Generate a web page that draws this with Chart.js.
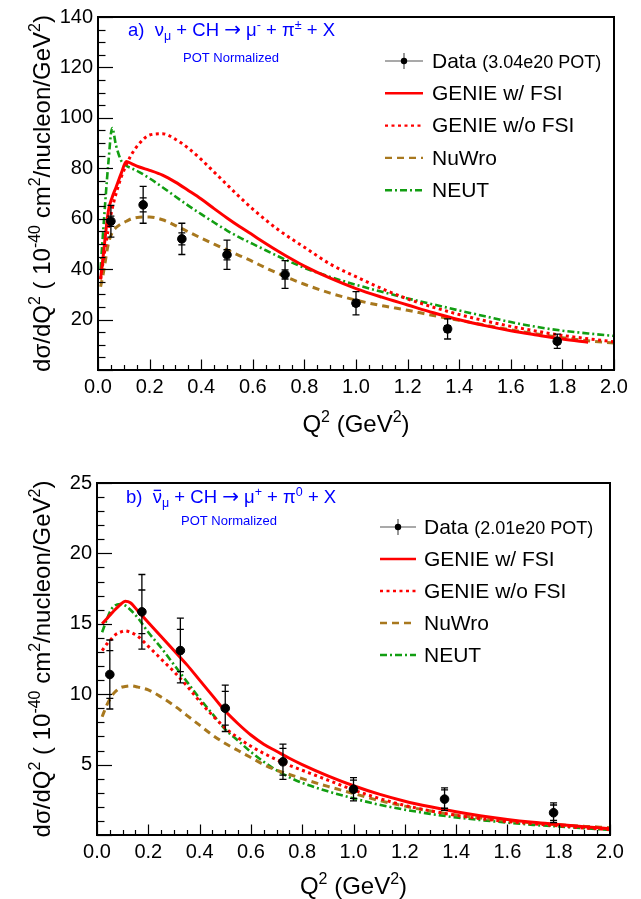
<!DOCTYPE html>
<html lang="en">
<head>
  <meta charset="UTF-8" />
  <title>dsigma/dQ2 - pion production</title>
  <script src="https://cdn.jsdelivr.net/npm/chart.js"></script>
  <style>
    * {
      margin: 0;
      padding: 0;
      box-sizing: border-box;
    }

    body {
      width: 641px;
      height: 899px;
      background: #fff;
      overflow: hidden;
    }

    canvas {
      display: block;
    }
  </style>
</head>
<body>

  <canvas id="topChart" width="641" height="440"></canvas>
  <canvas id="bottomChart" width="641" height="459"></canvas>

  <script>
    // Q2 grid the model curves are read on (GeV^2)
    const curveQ2 = [0.01, 0.02, 0.04, 0.055, 0.07, 0.09, 0.11, 0.13, 0.16, 0.2,
      0.25, 0.3, 0.35, 0.4, 0.45, 0.5, 0.55, 0.6, 0.65, 0.7,
      0.75, 0.8, 0.9, 1.0, 1.1, 1.2, 1.3, 1.4, 1.5, 1.6,
      1.7, 1.8, 1.9, 2.0];

    // a) nu_mu + CH -> mu- + pi+- + X
    const topGenieFsi = [36, 45, 63, 68.5, 72.5, 78, 82.7, 81.8, 80.5, 79.2,
      77.3, 74.5, 71.2, 67.8, 64, 60.3, 56.8, 53.5, 50.2, 47,
      44, 41.2, 36.4, 32.3, 28.9, 25.8, 22.7, 19.9, 17.6, 15.6,
      13.9, 12.3, 11.0, null];
    const topGenieNoFsi = [36, 43, 56, 64, 70, 76.5, 81.5, 85.5, 89.8, 93.2,
      93.7, 91.5, 88, 83.5, 78.5, 73.5, 68.5, 63.8, 59.5, 55.5,
      52, 48.7, 42, 37, 32.3, 28.2, 24.9, 22.0, 19.5, 17.3,
      15.4, 13.7, 12.4, 11.2];
    const topNuwro = [33, 38, 50, 54.5, 56.5, 58, 59, 60, 60.6, 60.7,
      59.6, 57.3, 54.8, 52.3, 49.9, 47.6, 45.3, 43, 40.5, 38.2,
      36, 34, 30.5, 27.7, 25.5, 23.7, 21.6, 19.7, 17.8, 15.9,
      14.3, 12.8, 11.6, 10.7];
    const topNeut = [40, 55, 82, 96, 89, 83, 81, 80, 78.5, 76,
      72.5, 68.8, 65.2, 61.8, 58.5, 55.3, 52.5, 50, 47.5, 45,
      42.7, 40.5, 36.9, 33.8, 31, 28.4, 26, 23.6, 21.3, 19.0,
      17.1, 15.6, 14.5, 13.5];

    // b) anti-nu_mu + CH -> mu+ + pi0 + X
    const botGenieFsi = [null, 15.0, 15.4, 15.7, 16.0, 16.35, 16.6, 16.5, 15.9, 15.1,
      14.1, 13.1, 12.1, 11.0, 9.9, 8.8, 7.9, 7.1, 6.45, 5.95,
      5.45, 5.0, 4.2, 3.5, 2.9, 2.4, 2.0, 1.65, 1.35, 1.1,
      0.9, 0.74, 0.58, 0.45];
    const botGenieNoFsi = [null, 13.1, 13.6, 13.9, 14.2, 14.4, 14.5, 14.4, 14.1, 13.4,
      12.5, 11.6, 10.6, 9.5, 8.5, 7.6, 6.9, 6.3, 5.8, 5.35,
      4.95, 4.6, 3.9, 3.2, 2.6, 2.1, 1.72, 1.4, 1.15, 0.95,
      0.8, 0.65, 0.5, 0.38];
    const botNuwro = [null, 8.4, 9.3, 9.8, 10.15, 10.45, 10.55, 10.6, 10.5, 10.3,
      9.8, 9.2, 8.5, 7.8, 7.1, 6.5, 6.0, 5.5, 5.0, 4.6,
      4.3, 4.0, 3.45, 2.95, 2.45, 2.05, 1.7, 1.42, 1.2, 1.02,
      0.86, 0.73, 0.62, 0.52];
    const botNeut = [null, 14.4, 15.4, 16.0, 16.3, 16.4, 16.3, 16.0, 15.4, 14.4,
      13.3, 12.1, 10.9, 9.7, 8.6, 7.5, 6.7, 5.9, 5.2, 4.6,
      4.1, 3.7, 3.1, 2.6, 2.15, 1.8, 1.5, 1.25, 1.05, 0.88,
      0.72, 0.6, 0.48, 0.36];

    // measured points
    const dataQ2 = [0.05, 0.175, 0.325, 0.5, 0.725, 1.0, 1.355, 1.78];
    const topData = [59, 65.5, 52.0, 45.7, 37.9, 26.5, 16.3, 11.4];
    const topTotErr = [6.3, 7.3, 6.2, 5.8, 5.5, 4.6, 4.0, 2.8];
    const topStatErr = [2.0, 2.8, 2.4, 2.0, 1.8, 1.3, 1.3, 1.1];
    const botData = [11.4, 15.85, 13.1, 9.0, 5.2, 3.25, 2.55, 1.58];
    const botTotErr = [2.45, 2.65, 2.3, 1.65, 1.25, 0.82, 0.8, 0.7];
    const botStatErr = [1.7, 1.55, 1.5, 1.2, 0.95, 0.65, 0.65, 0.55];

    const FONT = '"Liberation Sans", Arial, sans-serif';
    const ARROW_FONT = '"DejaVu Sans", sans-serif';
    const RED = '#ff0000';
    const BROWN = '#a8781e';
    const GREEN = '#129e12';
    const BLUE = '#0000ff';

    // axis titles, ROOT-like superscripts
    const yTitleParts = [['dσ/dQ', 24, 0], ['2', 16, -10], [' ( 10', 24, 0], ['-40', 16, -10],
      [' cm', 24, 0], ['2', 16, -10], ['/nucleon/GeV', 24, 0], ['2', 16, -10], [')', 24, 0]];
    const xTitleParts = [['Q', 24, 0], ['2', 16, -10], [' (GeV', 24, 0], ['2', 16, -10], [')', 24, 0]];

    function partFont(part) {
      return part[1] + 'px ' + (part[4] || FONT);
    }

    function richWidth(ctx, parts) {
      let w = 0;
      for (const part of parts) {
        ctx.font = partFont(part);
        w += ctx.measureText(part[0]).width;
      }
      return w;
    }

    // draws a run of text pieces [text, size, dy, overbar, family]
    function drawRich(ctx, x, y, parts) {
      ctx.textAlign = 'left';
      ctx.textBaseline = 'alphabetic';
      for (const part of parts) {
        const [txt, size, dy, bar] = part;
        ctx.font = partFont(part);
        ctx.fillText(txt, x, y + dy);
        const w = ctx.measureText(txt).width;
        if (bar) {
          ctx.fillRect(x + 1, y + dy - size * 0.72, w - 2, 1.4);
        }
        x += w;
      }
    }

    // ROOT style frame with ticks pointing inwards
    const rootAxes = {
      id: 'rootAxes',
      afterDatasetsDraw(chart, args, o) {
        const { ctx, chartArea: a, scales: { x, y } } = chart;
        ctx.save();
        ctx.strokeStyle = '#000';
        ctx.lineWidth = 1.2;
        let n = Math.round((y.max - y.min) / o.yMinor);
        for (let i = 0; i <= n; i++) {
          const v = y.min + i * o.yMinor;
          const py = Math.round(y.getPixelForValue(v)) + 0.5;
          const major = Math.abs(v / o.yMajor - Math.round(v / o.yMajor)) < 1e-6;
          ctx.beginPath();
          ctx.moveTo(a.left, py);
          ctx.lineTo(a.left + (major ? 15 : 7.5), py);
          ctx.stroke();
        }
        n = Math.round((x.max - x.min) / o.xMinor);
        for (let i = 0; i <= n; i++) {
          const v = x.min + i * o.xMinor;
          const px = Math.round(x.getPixelForValue(v)) + 0.5;
          const major = Math.abs(v / o.xMajor - Math.round(v / o.xMajor)) < 1e-6;
          ctx.beginPath();
          ctx.moveTo(px, a.bottom);
          ctx.lineTo(px, a.bottom - (major ? 10.5 : 5));
          ctx.stroke();
        }
        ctx.lineWidth = 2;
        ctx.strokeRect(a.left, a.top, a.right - a.left, a.bottom - a.top);
        ctx.restore();
      }
    };

    // total and statistical error bars on the data points
    const errorBars = {
      id: 'errorBars',
      afterDatasetsDraw(chart, args, o) {
        const { ctx, scales: { x, y } } = chart;
        ctx.save();
        ctx.strokeStyle = '#000';
        ctx.lineWidth = 1.3;
        o.q2.forEach((q, i) => {
          const px = x.getPixelForValue(q);
          const yc = o.values[i];
          const top = y.getPixelForValue(yc + o.tot[i]);
          const bot = y.getPixelForValue(yc - o.tot[i]);
          ctx.beginPath();
          ctx.moveTo(px, top);
          ctx.lineTo(px, bot);
          [yc + o.tot[i], yc - o.tot[i], yc + o.stat[i], yc - o.stat[i]].forEach(v => {
            const py = y.getPixelForValue(v);
            ctx.moveTo(px - 3.5, py);
            ctx.lineTo(px + 3.5, py);
          });
          ctx.stroke();
        });
        ctx.restore();
      }
    };

    // axis titles, in-frame title, POT note and legend
    const panelText = {
      id: 'panelText',
      afterDraw(chart, args, o) {
        const { ctx, chartArea: a } = chart;
        ctx.save();

        ctx.fillStyle = '#000';
        const xw = richWidth(ctx, xTitleParts);
        drawRich(ctx, (a.left + a.right) / 2 - xw / 2, o.xTitleBase, xTitleParts);

        const yw = richWidth(ctx, yTitleParts);
        ctx.save();
        ctx.translate(o.yTitleBase, (a.top + a.bottom) / 2 + yw / 2);
        ctx.rotate(-Math.PI / 2);
        drawRich(ctx, 0, 0, yTitleParts);
        ctx.restore();

        ctx.fillStyle = BLUE;
        drawRich(ctx, o.titleX, o.titleY, o.title);
        ctx.font = '13px ' + FONT;
        ctx.fillText('POT Normalized', o.potX, o.potY);

        const lg = o.legend;
        chart.data.datasets.forEach((ds, i) => {
          const ry = lg.y0 + i * lg.dy;
          if (i === 0) {
            ctx.strokeStyle = '#555';
            ctx.lineWidth = 1.2;
            ctx.beginPath();
            ctx.moveTo(lg.x0, ry);
            ctx.lineTo(lg.x1, ry);
            const mx = (lg.x0 + lg.x1) / 2;
            ctx.moveTo(mx, ry - 8);
            ctx.lineTo(mx, ry + 8);
            ctx.stroke();
            ctx.fillStyle = '#000';
            ctx.beginPath();
            ctx.arc(mx, ry, 3.2, 0, Math.PI * 2);
            ctx.fill();
          } else {
            ctx.strokeStyle = ds.borderColor;
            ctx.lineWidth = 2.4;
            ctx.setLineDash(ds.borderDash || []);
            ctx.beginPath();
            ctx.moveTo(lg.x0, ry);
            ctx.lineTo(lg.x1, ry);
            ctx.stroke();
            ctx.setLineDash([]);
          }
          ctx.fillStyle = '#000';
          ctx.textBaseline = 'middle';
          ctx.textAlign = 'left';
          ctx.font = '21px ' + FONT;
          ctx.fillText(ds.label, lg.tx, ry + 1);
          if (i === 0) {
            const w = ctx.measureText(ds.label + ' ').width;
            ctx.font = '18px ' + FONT;
            ctx.fillText(o.pot, lg.tx + w, ry + 2);
          }
        });
        ctx.restore();
      }
    };

    function buildChart(id, p) {
      const curves = [
        { label: 'GENIE w/ FSI', values: p.genieFsi, color: RED, dash: [], width: 3 },
        { label: 'GENIE w/o FSI', values: p.genieNoFsi, color: RED, dash: [3, 3.5], width: 3 },
        { label: 'NuWro', values: p.nuwro, color: BROWN, dash: [7, 5], width: 3 },
        { label: 'NEUT', values: p.neut, color: GREEN, dash: [7, 3, 2, 3], width: 2.6 }
      ];

      const datasets = [{
        label: 'Data',
        data: dataQ2.map((q, i) => ({ x: q, y: p.data[i] })),
        showLine: false,
        pointRadius: 4.3,
        pointBackgroundColor: '#000',
        pointBorderColor: '#000',
        borderColor: '#000'
      }].concat(curves.map(c => ({
        label: c.label,
        data: curveQ2.map((q, i) => ({ x: q, y: c.values[i] })),
        borderColor: c.color,
        borderDash: c.dash,
        borderWidth: c.width,
        pointRadius: 0,
        fill: false,
        cubicInterpolationMode: 'monotone'
      })));

      const tickFont = { family: FONT, size: 20 };

      return new Chart(document.getElementById(id), {
        type: 'line',
        data: { datasets },
        options: {
          responsive: false,
          animation: false,
          devicePixelRatio: 1,
          layout: { padding: { top: p.padTop, right: p.padRight, left: 0, bottom: 0 } },
          plugins: {
            legend: { display: false },
            tooltip: { enabled: false },
            rootAxes: { yMajor: p.yMajor, yMinor: p.yMinor, xMajor: 0.2, xMinor: 0.05 },
            errorBars: { q2: dataQ2, values: p.data, tot: p.tot, stat: p.stat },
            panelText: p.text
          },
          scales: {
            x: {
              type: 'linear',
              min: 0,
              max: 2,
              grid: { display: false, drawTicks: false },
              border: { display: false },
              ticks: {
                stepSize: 0.2,
                autoSkip: false,
                maxRotation: 0,
                padding: 5,
                color: '#000',
                font: tickFont,
                callback: v => v.toFixed(1)
              },
              title: { display: false },
              afterFit: s => { s.height = p.xAxisH; }
            },
            y: {
              min: 0,
              max: p.yMax,
              grid: { display: false, drawTicks: false },
              border: { display: false },
              ticks: {
                stepSize: p.yMajor,
                autoSkip: false,
                padding: 5,
                color: '#000',
                font: tickFont,
                callback: v => (v === 0 ? '' : v)
              },
              title: { display: false },
              afterFit: s => { s.width = p.yAxisW; }
            }
          }
        },
        plugins: [rootAxes, errorBars, panelText]
      });
    }

    buildChart('topChart', {
      genieFsi: topGenieFsi, genieNoFsi: topGenieNoFsi, nuwro: topNuwro, neut: topNeut,
      data: topData, tot: topTotErr, stat: topStatErr,
      yMax: 140, yMajor: 20, yMinor: 5,
      padTop: 16, padRight: 27, yAxisW: 98, xAxisH: 70,
      text: {
        xTitleBase: 432, yTitleBase: 50,
        titleX: 128, titleY: 36,
        title: [['a)  ν', 18.5, 0], ['μ', 12.5, 4], [' + CH ', 18.5, 0], ['→', 20, 0, false, ARROW_FONT],
          [' μ', 18.5, 0], ['-', 12.5, -7], [' + π', 18.5, 0], ['±', 12.5, -7], [' + X', 18.5, 0]],
        potX: 183, potY: 62,
        pot: '(3.04e20 POT)',
        legend: { x0: 385, x1: 423, tx: 432, y0: 61, dy: 32.3 }
      }
    });

    buildChart('bottomChart', {
      genieFsi: botGenieFsi, genieNoFsi: botGenieNoFsi, nuwro: botNuwro, neut: botNeut,
      data: botData, tot: botTotErr, stat: botStatErr,
      yMax: 25, yMajor: 5, yMinor: 1,
      padTop: 43, padRight: 31, yAxisW: 97, xAxisH: 64,
      text: {
        xTitleBase: 454, yTitleBase: 50,
        titleX: 126, titleY: 63,
        title: [['b)  ', 18.5, 0], ['ν', 18.5, 0, true], ['μ', 12.5, 4], [' + CH ', 18.5, 0],
          ['→', 20, 0, false, ARROW_FONT], [' μ', 18.5, 0], ['+', 12.5, -7],
          [' + π', 18.5, 0], ['0', 12.5, -7], [' + X', 18.5, 0]],
        potX: 181, potY: 85,
        pot: '(2.01e20 POT)',
        legend: { x0: 380, x1: 416, tx: 424, y0: 87, dy: 32 }
      }
    });
  </script>

</body>
</html>
